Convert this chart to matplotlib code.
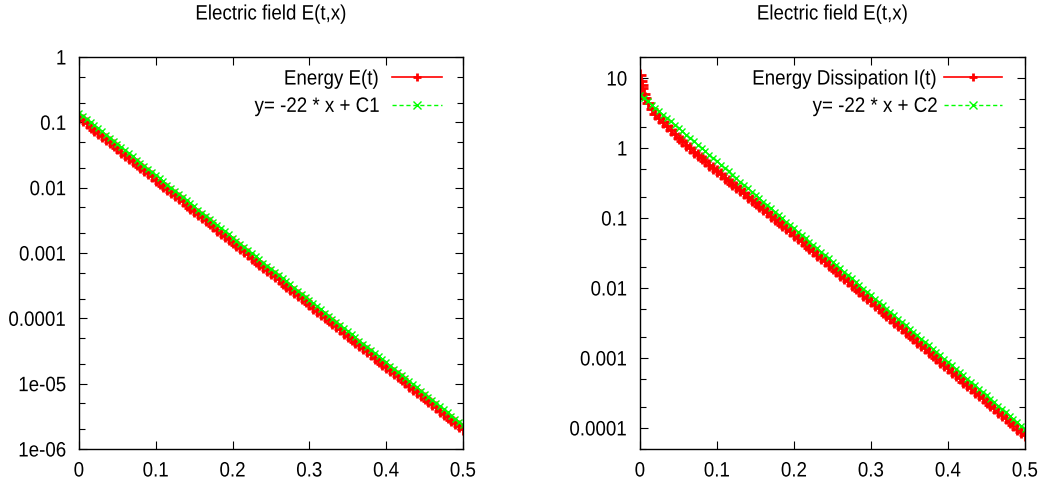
import matplotlib
matplotlib.use("Agg")
import matplotlib.pyplot as plt
from matplotlib.ticker import LogLocator, FixedLocator, NullFormatter, FuncFormatter
from matplotlib.patheffects import AbstractPathEffect
from matplotlib.transforms import Affine2D

plt.rcParams['font.family'] = ['Liberation Sans', 'DejaVu Sans']

# ---------------- data ----------------
t_grid = [0.000, 0.005, 0.010, 0.015, 0.020, 0.025, 0.030, 0.035, 0.040, 0.045,
          0.050, 0.055, 0.060, 0.065, 0.070, 0.075, 0.080, 0.085, 0.090, 0.095,
          0.100, 0.105, 0.110, 0.115, 0.120, 0.125, 0.130, 0.135, 0.140, 0.145,
          0.150, 0.155, 0.160, 0.165, 0.170, 0.175, 0.180, 0.185, 0.190, 0.195,
          0.200, 0.205, 0.210, 0.215, 0.220, 0.225, 0.230, 0.235, 0.240, 0.245,
          0.250, 0.255, 0.260, 0.265, 0.270, 0.275, 0.280, 0.285, 0.290, 0.295,
          0.300, 0.305, 0.310, 0.315, 0.320, 0.325, 0.330, 0.335, 0.340, 0.345,
          0.350, 0.355, 0.360, 0.365, 0.370, 0.375, 0.380, 0.385, 0.390, 0.395,
          0.400, 0.405, 0.410, 0.415, 0.420, 0.425, 0.430, 0.435, 0.440, 0.445,
          0.450, 0.455, 0.460, 0.465, 0.470, 0.475, 0.480, 0.485, 0.490, 0.495,
          0.500]

energy_E = [1.200e-1, 1.075e-1, 9.63e-2, 8.63e-2, 7.73e-2, 6.92e-2, 6.20e-2, 5.55e-2, 4.98e-2, 4.46e-2,
            3.99e-2, 3.57e-2, 3.21e-2, 2.88e-2, 2.57e-2, 2.30e-2, 2.06e-2, 1.85e-2, 1.66e-2, 1.49e-2,
            1.330e-2, 1.191e-2, 1.067e-2, 9.56e-3, 8.56e-3, 7.67e-3, 6.87e-3, 6.15e-3, 5.52e-3, 4.94e-3,
            4.42e-3, 3.96e-3, 3.56e-3, 3.19e-3, 2.85e-3, 2.55e-3, 2.28e-3, 2.04e-3, 1.84e-3, 1.65e-3,
            1.473e-3, 1.320e-3, 1.182e-3, 1.059e-3, 9.49e-4, 8.50e-4, 7.61e-4, 6.82e-4, 6.11e-4, 5.47e-4,
            4.90e-4, 4.39e-4, 3.94e-4, 3.53e-4, 3.16e-4, 2.83e-4, 2.53e-4, 2.27e-4, 2.04e-4, 1.83e-4,
            1.632e-4, 1.462e-4, 1.310e-4, 1.174e-4, 1.052e-4, 9.42e-5, 8.43e-5, 7.55e-5, 6.77e-5, 6.06e-5,
            5.43e-5, 4.86e-5, 4.37e-5, 3.91e-5, 3.50e-5, 3.14e-5, 2.80e-5, 2.51e-5, 2.26e-5, 2.02e-5,
            1.809e-5, 1.621e-5, 1.452e-5, 1.301e-5, 1.165e-5, 1.044e-5, 9.35e-6, 8.38e-6, 7.51e-6, 6.73e-6,
            6.01e-6, 5.38e-6, 4.84e-6, 4.34e-6, 3.87e-6, 3.47e-6, 3.11e-6, 2.79e-6, 2.50e-6, 2.24e-6,
            2.00e-6]

fit_C1 = [1.400e-1, 1.254e-1, 1.124e-1, 1.007e-1, 9.02e-2, 8.08e-2, 7.24e-2, 6.49e-2, 5.81e-2, 5.20e-2,
          4.66e-2, 4.17e-2, 3.74e-2, 3.35e-2, 3.00e-2, 2.69e-2, 2.41e-2, 2.16e-2, 1.93e-2, 1.73e-2,
          1.551e-2, 1.389e-2, 1.245e-2, 1.115e-2, 9.99e-3, 8.95e-3, 8.02e-3, 7.18e-3, 6.44e-3, 5.77e-3,
          5.16e-3, 4.62e-3, 4.14e-3, 3.71e-3, 3.32e-3, 2.97e-3, 2.67e-3, 2.39e-3, 2.14e-3, 1.92e-3,
          1.719e-3, 1.540e-3, 1.380e-3, 1.236e-3, 1.107e-3, 9.92e-4, 8.89e-4, 7.96e-4, 7.13e-4, 6.39e-4,
          5.72e-4, 5.12e-4, 4.59e-4, 4.11e-4, 3.68e-4, 3.30e-4, 2.96e-4, 2.65e-4, 2.37e-4, 2.12e-4,
          1.905e-4, 1.707e-4, 1.529e-4, 1.370e-4, 1.227e-4, 1.099e-4, 9.85e-5, 8.82e-5, 7.90e-5, 7.08e-5,
          6.34e-5, 5.68e-5, 5.09e-5, 4.56e-5, 4.08e-5, 3.65e-5, 3.28e-5, 2.94e-5, 2.63e-5, 2.36e-5,
          2.110e-5, 1.890e-5, 1.694e-5, 1.518e-5, 1.360e-5, 1.218e-5, 1.091e-5, 9.77e-6, 8.76e-6, 7.85e-6,
          7.02e-6, 6.29e-6, 5.64e-6, 5.05e-6, 4.52e-6, 4.05e-6, 3.63e-6, 3.25e-6, 2.91e-6, 2.61e-6,
          2.34e-6]

t_diss = [0.000, 0.001, 0.002, 0.003, 0.005, 0.007, 0.010, 0.015, 0.020, 0.025,
          0.030, 0.035, 0.040, 0.045, 0.050, 0.055, 0.060, 0.065, 0.070, 0.075,
          0.080, 0.085, 0.090, 0.095, 0.100, 0.105, 0.110, 0.115, 0.120, 0.125,
          0.130, 0.135, 0.140, 0.145, 0.150, 0.155, 0.160, 0.165, 0.170, 0.175,
          0.180, 0.185, 0.190, 0.195, 0.200, 0.205, 0.210, 0.215, 0.220, 0.225,
          0.230, 0.235, 0.240, 0.245, 0.250, 0.255, 0.260, 0.265, 0.270, 0.275,
          0.280, 0.285, 0.290, 0.295, 0.300, 0.305, 0.310, 0.315, 0.320, 0.325,
          0.330, 0.335, 0.340, 0.345, 0.350, 0.355, 0.360, 0.365, 0.370, 0.375,
          0.380, 0.385, 0.390, 0.395, 0.400, 0.405, 0.410, 0.415, 0.420, 0.425,
          0.430, 0.435, 0.440, 0.445, 0.450, 0.455, 0.460, 0.465, 0.470, 0.475,
          0.480, 0.485, 0.490, 0.495, 0.500]

dissipation_I = [11.05, 9.20, 8.02, 7.16, 5.96, 5.21, 4.445, 3.63, 3.037, 2.657,
                 2.326, 2.039, 1.783, 1.580, 1.398, 1.253, 1.121, 1.001, 0.890, 0.797,
                 0.7146, 0.644, 0.5799, 0.5195, 0.4652, 0.4190, 0.3781, 0.3401, 0.3066, 0.2762,
                 0.2492, 0.2244, 0.2023, 0.1820, 0.1641, 0.1478, 0.1332, 0.1199, 0.1081, 0.0974,
                 0.0878, 0.0791, 0.0713, 0.0642, 5.789e-2, 5.186e-2, 4.646e-2, 4.163e-2, 3.728e-2, 3.339e-2,
                 2.993e-2, 2.680e-2, 2.402e-2, 2.151e-2, 1.928e-2, 1.727e-2, 1.546e-2, 1.385e-2, 1.241e-2, 1.111e-2,
                 9.96e-3, 8.92e-3, 7.99e-3, 7.16e-3, 6.415e-3, 5.746e-3, 5.149e-3, 4.612e-3, 4.131e-3, 3.701e-3,
                 3.315e-3, 2.970e-3, 2.661e-3, 2.384e-3, 2.136e-3, 1.913e-3, 1.713e-3, 1.534e-3, 1.375e-3, 1.232e-3,
                 1.104e-3, 9.89e-4, 8.86e-4, 7.93e-4, 7.107e-4, 6.367e-4, 5.704e-4, 5.110e-4, 4.577e-4, 4.100e-4,
                 3.674e-4, 3.291e-4, 2.949e-4, 2.641e-4, 2.367e-4, 2.120e-4, 1.898e-4, 1.701e-4, 1.524e-4, 1.365e-4,
                 1.223e-4, 1.095e-4, 9.81e-5, 8.79e-5, 7.88e-5]

fit_C2 = [5.800, 5.196, 4.655, 4.170, 3.735, 3.346, 2.998, 2.686, 2.406, 2.155,
          1.931, 1.730, 1.549, 1.388, 1.243, 1.113, 0.998, 0.894, 0.801, 0.7175,
          0.6426, 0.5756, 0.5158, 0.4621, 0.4138, 0.3707, 0.3322, 0.2976, 0.2666, 0.2388,
          0.2140, 0.1917, 0.1716, 0.1537, 0.1377, 0.1234, 0.1106, 0.0991, 0.0887, 0.0795,
          7.121e-2, 6.379e-2, 5.715e-2, 5.120e-2, 4.585e-2, 4.107e-2, 3.681e-2, 3.297e-2, 2.954e-2, 2.646e-2,
          2.371e-2, 2.124e-2, 1.902e-2, 1.704e-2, 1.526e-2, 1.367e-2, 1.225e-2, 1.097e-2, 9.83e-3, 8.81e-3,
          7.890e-3, 7.068e-3, 6.333e-3, 5.673e-3, 5.081e-3, 4.552e-3, 4.078e-3, 3.653e-3, 3.273e-3, 2.932e-3,
          2.627e-3, 2.353e-3, 2.107e-3, 1.887e-3, 1.691e-3, 1.515e-3, 1.358e-3, 1.217e-3, 1.090e-3, 9.76e-4,
          8.742e-4, 7.831e-4, 7.016e-4, 6.285e-4, 5.630e-4, 5.043e-4, 4.519e-4, 4.048e-4, 3.627e-4, 3.249e-4,
          2.911e-4, 2.608e-4, 2.335e-4, 2.092e-4, 1.874e-4, 1.679e-4, 1.504e-4, 1.347e-4, 1.207e-4, 1.081e-4,
          9.69e-5]

x_ticks = [0, 0.1, 0.2, 0.3, 0.4, 0.5]
y_ticks_left = [1e-6, 1e-5, 1e-4, 1e-3, 1e-2, 1e-1, 1]
y_labels_left = ['1e-06', '1e-05', '0.0001', '0.001', '0.01', '0.1', '1']
y_ticks_right = [1e-4, 1e-3, 1e-2, 1e-1, 1, 10]
y_labels_right = ['0.0001', '0.001', '0.01', '0.1', '1', '10']

title_text = 'Electric field E(t,x)'
labels_left = ['Energy E(t)', 'y= -22 * x + C1']
labels_right = ['Energy Dissipation I(t)', 'y= -22 * x + C2']


# -------- condensed text rendering (horizontal squeeze, text stays text) --------
class Condense(AbstractPathEffect):
    def __init__(self, sx=0.88, anchor=0.0):
        super().__init__()
        self.sx = sx
        self.anchor = anchor

    def draw_path(self, renderer, gc, tpath, affine, rgbFace=None):
        v = tpath.vertices
        if len(v):
            xmin, xmax = v[:, 0].min(), v[:, 0].max()
            xa = xmin + self.anchor * (xmax - xmin)
            aff = Affine2D().translate(-xa, 0).scale(self.sx, 1).translate(xa, 0) + affine
        else:
            aff = affine
        renderer.draw_path(gc, tpath, aff, rgbFace)


# ---------------- figure ----------------
W, H = 1047, 491
fig = plt.figure(figsize=(W / 100, H / 100), dpi=100)

FS = 15
SX = 0.9
RED = '#ff0000'
GREEN = '#00ff00'


def px_axes(x0, x1, y0, y1):
    return fig.add_axes([x0 / W, (H - y1) / H, (x1 - x0) / W, (y1 - y0) / H])


def style(ax, yticks, ylabels, ylim):
    ax.set_yscale('log')
    ax.set_xlim(0, 0.5)
    ax.set_ylim(*ylim)
    ax.xaxis.set_major_locator(FixedLocator(x_ticks))
    ax.xaxis.set_major_formatter(FuncFormatter(lambda v, p: ('%g' % round(v, 3))))
    ax.yaxis.set_major_locator(FixedLocator(yticks))
    ax.set_yticklabels(ylabels)
    ax.yaxis.set_minor_locator(LogLocator(base=10, subs=(2.0, 5.0), numticks=20))
    ax.yaxis.set_minor_formatter(NullFormatter())
    ax.tick_params(which='both', direction='in', top=True, right=True, labelsize=FS, width=0.8, color='black')
    ax.tick_params(which='major', length=6)
    ax.tick_params(which='minor', length=4)
    ax.tick_params(axis='x', pad=9)
    ax.tick_params(axis='y', pad=9)
    for s in ax.spines.values():
        s.set_linewidth(1.0)
        s.set_color('black')
    ax.set_title(title_text, fontsize=FS, pad=27)


def plot_pair(ax, tx1, y1, tx2, y2, labels):
    ax.plot(tx1, y1, color=RED, lw=1.2, marker='+', ms=8, mew=2.0, label=labels[0])
    ax.plot(tx2, y2, color=GREEN, lw=1.0, ls=(0, (3, 2)), marker='x', ms=5, mew=1.0, label=labels[1])


axL = px_axes(79, 463, 57, 449)
plot_pair(axL, t_grid, energy_E, t_grid, fit_C1, labels_left)
style(axL, y_ticks_left, y_labels_left, (1e-6, 1))
legL = axL.legend(loc='upper right', bbox_to_anchor=(0.945, 0.968), frameon=False, markerfirst=False,
                  numpoints=1, fontsize=FS, handlelength=2.4, handletextpad=0.6, labelspacing=0.4,
                  borderpad=0, borderaxespad=0)

axR = px_axes(640, 1025, 57, 449)
plot_pair(axR, t_diss, dissipation_I, t_grid, fit_C2, labels_right)
style(axR, y_ticks_right, y_labels_right, (5e-5, 20))
legR = axR.legend(loc='upper right', bbox_to_anchor=(0.94, 0.968), frameon=False, markerfirst=False,
                  numpoints=1, fontsize=FS, handlelength=2.8, handletextpad=0.3, labelspacing=0.4,
                  borderpad=0, borderaxespad=0)
for leg in (legL, legR):
    for h in leg.legend_handles:
        h.set_markersize(6)

fig.canvas.draw()
for ax, leg in ((axL, legL), (axR, legR)):
    for lab in ax.get_xticklabels():
        lab.set_path_effects([Condense(SX, 0.5)])
    for lab in ax.get_yticklabels():
        lab.set_path_effects([Condense(SX, 1.0)])
    ax.title.set_path_effects([Condense(SX, 0.5)])
    for txt in leg.get_texts():
        txt.set_path_effects([Condense(SX, 1.0)])

fig.savefig('out.png', dpi=100)
